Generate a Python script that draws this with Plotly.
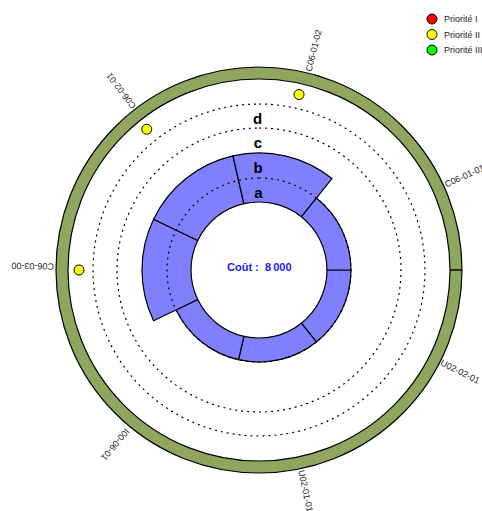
import math
import plotly.graph_objects as go

# ---- data -------------------------------------------------------------
sector_labels = ["U02-02-01", "U02-01-01", "I00-06-01", "C06-03-00",
                 "C06-02-01", "C06-01-02", "C06-01-01"]
# level reached by each sector (1 = a, 2 = b)
sector_level = [1, 1, 1, 2, 2, 2, 1]
# priority flag of each sector (None = no flag)
sector_priority = [None, None, None, "Priorité II", "Priorité II", "Priorité II", None]

level_names = ["a", "b", "c", "d"]
level_bounds = [68, 92, 117, 142, 166]      # radial limits of the levels
dashed_levels = [92, 142, 166]               # reference circles
ring_inner, ring_outer = 191, 203            # outer band
flag_radius = 180
cost = 8000

priorities = ["Priorité I", "Priorité II", "Priorité III"]
priority_colors = ["#ff0000", "#ffff00", "#00ff00"]

# ---- geometry ---------------------------------------------------------
W, H = 482, 511
cx, cy, R = 259, 270, 215      # polar centre and radius in pixels
r_max = 215                     # radial axis range
n = len(sector_labels)
step = 360 / n
start = 90                      # first sector starts at east
centers = [start + step * (i + 0.5) for i in range(n)]

FONT = "Arial, Liberation Sans, sans-serif"

fig = go.Figure()

# sectors
fig.add_trace(go.Barpolar(
    theta=centers,
    base=[level_bounds[0]] * n,
    r=[level_bounds[lv] - level_bounds[0] for lv in sector_level],
    width=[step] * n,
    marker=dict(color="#8080ff", line=dict(color="black", width=1.2)),
    showlegend=False, hoverinfo="skip",
))

# outer band
fig.add_trace(go.Barpolar(
    theta=[start + 180], base=[ring_inner], r=[ring_outer - ring_inner], width=[360],
    marker=dict(color="#8fa65f", line=dict(color="black", width=1.2)),
    showlegend=False, hoverinfo="skip",
))
fig.add_trace(go.Scatterpolar(
    r=[ring_inner, ring_outer], theta=[start, start], mode="lines",
    line=dict(color="black", width=1.5), showlegend=False, hoverinfo="skip",
))

# dashed reference circles
circ = [i * 2 for i in range(181)]
for rr in dashed_levels:
    fig.add_trace(go.Scatterpolar(
        r=[rr] * len(circ), theta=circ, mode="lines",
        line=dict(color="black", width=1.2, dash="2px,4px"),
        showlegend=False, hoverinfo="skip",
    ))

# level letters
mids = [(level_bounds[i] + level_bounds[i + 1]) / 2 - 4 for i in range(len(level_names))]
fig.add_trace(go.Scatterpolar(
    r=mids, theta=[-0.5] * len(mids), mode="text",
    text=[f"<b>{s}</b>" for s in level_names],
    textfont=dict(family=FONT, size=15, color="black"),
    showlegend=False, hoverinfo="skip",
))

# priority flags
for p, col in zip(priorities, priority_colors):
    th = [centers[i] for i in range(n) if sector_priority[i] == p]
    if th:
        fig.add_trace(go.Scatterpolar(
            r=[flag_radius] * len(th), theta=th, mode="markers", name=p,
            marker=dict(size=10, color=col, line=dict(color="black", width=1)),
            showlegend=False, hoverinfo="skip",
        ))

# legend, drawn on a pixel-scaled overlay
leg_x, leg_top, leg_step = 432, 19, 15.5
fig.add_trace(go.Scatter(
    x=[leg_x] * len(priorities),
    y=[leg_top + i * leg_step for i in range(len(priorities))],
    mode="markers",
    marker=dict(size=10, color=priority_colors, line=dict(color="black", width=1)),
    showlegend=False, hoverinfo="skip",
))
for i, p in enumerate(priorities):
    fig.add_annotation(
        x=leg_x + 10, y=leg_top + i * leg_step, xref="x", yref="y",
        text=p, showarrow=False, xanchor="left", yanchor="middle",
        font=dict(family=FONT, size=9, color="#222222"),
    )

# sector names, written radially outside the band
label_r = ring_outer + 23
label_turn = 1.0   # small clockwise offset so the text sits beside the radius
for lab, b in zip(sector_labels, centers):
    a = math.radians(b + label_turn)
    px = cx + label_r * math.sin(a)
    py = cy - label_r * math.cos(a)
    fig.add_annotation(
        x=px, y=py, xref="x", yref="y",
        text=lab, showarrow=False, textangle=b + label_turn - 90,
        xanchor="center", yanchor="middle",
        font=dict(family=FONT, size=9, color="#222222"),
    )

# cost in the middle
cost_txt = f"{cost:,}".replace(",", "\u2009")
fig.add_annotation(
    x=cx, y=cy - 3, xref="x", yref="y",
    text=f"<b>Coût :\u00a0 {cost_txt}</b>", showarrow=False,
    xanchor="center", yanchor="middle",
    font=dict(family=FONT, size=11, color="#1a1aff"),
)

fig.update_layout(
    width=W, height=H,
    margin=dict(l=0, r=0, t=0, b=0, autoexpand=False),
    paper_bgcolor="white",
    plot_bgcolor="rgba(0,0,0,0)",
    polar=dict(
        domain=dict(x=[(cx - R) / W, (cx + R) / W], y=[1 - (cy + R) / H, 1 - (cy - R) / H]),
        bgcolor="white",
        radialaxis=dict(range=[0, r_max], visible=False),
        angularaxis=dict(direction="clockwise", rotation=90, visible=False),
    ),
    xaxis=dict(range=[0, W], visible=False, fixedrange=True, domain=[0, 1]),
    yaxis=dict(range=[H, 0], visible=False, fixedrange=True, domain=[0, 1]),
    showlegend=False,
)

fig.write_html("out.html")
